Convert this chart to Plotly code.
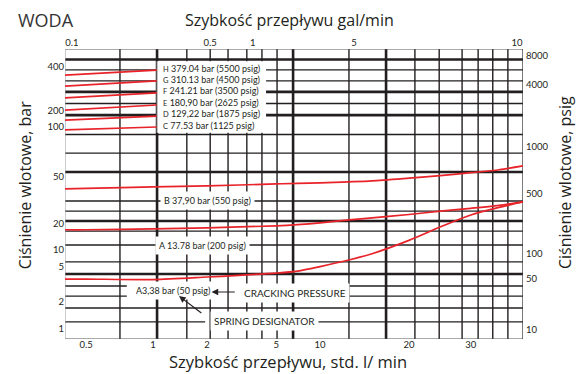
import numpy as np
import plotly.graph_objects as go

# ---------------------------------------------------------------- data
# Flow (std. l/min) at which the relief-valve curves were read
FLOW_LPM = [0.4, 0.5, 1, 2, 5, 7, 10, 12.5, 15, 20, 25, 30, 36, 42]
# Inlet pressure (bar) for springs B, A and A3
B_BAR = [39.6, 39.9, 41.1, 41.9, 43.6, 44.0, 44.5, 45.4, 46.3, 48.8, 51.0, 53.0, 55.2, 58.2]
A_BAR = [17.1, 17.1, 17.5, 18.0, 19.0, 19.6, 20.4, 21.6, 22.5, 24.0, 25.8, 27.1, 28.7, 30.7]
A3_BAR = [3.65, 3.65, 3.6, 3.85, 4.27, 4.5, 5.1, 6.65, 8.6, 12.9, 19.0, 23.8, 27.6, 30.7]

# High-pressure springs H..C (short segments, low-flow end only)
SHORT_FLOW = [0.4, 1.05]
H_BAR = [352, 381]
G_BAR = [296, 321]
F_BAR = [246, 266]
E_BAR = [203, 220]
D_BAR = [135, 161]
C_BAR = [96, 100]

SPRING_LABELS = [
    ("H", "379.04 bar (5500 psig)"),
    ("G", "310.13 bar (4500 psig)"),
    ("F", "241.21 bar (3500 psig)"),
    ("E", "180,90 bar (2625 psig)"),
    ("D", "129,22 bar (1875 psig)"),
    ("C", "77.53 bar (1125 psig)"),
]

# tick labels of the four printed scales
LPM_TICKS = [0.5, 1, 2, 5, 10, 20, 30]
GPM_TICKS = [0.1, 0.5, 1, 5, 10]
BAR_TICKS = [1, 2, 5, 10, 20, 50, 100, 200, 400]
PSIG_TICKS = [10, 50, 100, 500, 1000, 4000, 8000]

# ------------------------------------------------- printed (non-uniform) scales
# The nomogram's scales are hand-ruled; each is calibrated from its own tick
# marks (value -> percent of plot width / height) and interpolated in log space.
LPM_CAL_V = [0.4] + LPM_TICKS + [42]
LPM_CAL_P = [0, 4.6, 19.2, 31.0, 46.1, 55.7, 75.1, 88.6, 100]
BAR_CAL_V = [0.775] + BAR_TICKS + [530]
BAR_CAL_P = [0, 3.4, 12.8, 24.8, 30.7, 39.7, 55.9, 73.1, 78.6, 93.8, 100]
GPM_CAL_P = [1.5, 31.7, 41.0, 63.1, 98.7]
PSIG_CAL_P = [3.1, 20.7, 29.3, 50.0, 66.2, 87.6, 97.6]


def sx(q):
    return np.interp(np.log10(q), np.log10(LPM_CAL_V), LPM_CAL_P)


def sy(p):
    return np.interp(np.log10(p), np.log10(BAR_CAL_V), BAR_CAL_P)


# ruled grid of the chart sheet (percent of plot area); thick rules marked
GRID_V = [12.0, 20.1, 26.6, 31.7, 35.6, 39.7, 43.0, 46.3, 49.8, 62.0, 70.1,
          76.4, 81.7, 86.7, 90.2, 93.4, 96.7]
GRID_V_THICK = [20.1, 49.8, 70.1]
GRID_H = [96.4, 92.8, 89.0, 85.2, 81.2, 77.2, 70.5, 64.1, 57.6, 47.6, 44.1,
          40.7, 37.2, 32.4, 26.6, 22.4, 10.7]
GRID_H_THICK = [96.4, 85.2, 77.2, 57.6, 40.7, 22.4]
# rules that are broken around the bottom call-outs: (y, [(x0, x1), ...])
GRID_H_PARTIAL = [(18.3, [(0, 13.5), (61.6, 100)]),
                  (14.8, [(0, 13.5), (61.6, 100)]),
                  (5.9, [(0, 30.6), (55.2, 100)])]

INK = "#231f20"
RED = "#e8232a"
TXT_FONT = "Lato"
TITLE_FONT = "Open Sans"

fig = go.Figure()

shapes = []


def rule(x0, y0, x1, y1, width, color=INK):
    shapes.append(dict(type="line", xref="x", yref="y", x0=x0, y0=y0, x1=x1, y1=y1,
                       line=dict(color=color, width=width), layer="below"))


for gx in GRID_V:
    rule(gx, 0, gx, 100, 2.6 if gx in GRID_V_THICK else 1.4)
for gy in GRID_H:
    rule(0, gy, 100, gy, 2.6 if gy in GRID_H_THICK else 1.4)
for gy, spans in GRID_H_PARTIAL:
    for a, b in spans:
        rule(a, gy, b, gy, 1.4)

# frame
rule(0, 100, 100, 100, 1.0, "#555")
rule(0, 0, 100, 0, 1.2, "#555")
rule(0, 0, 0, 100, 1.0, "#9a9a9a")
rule(100, 0, 100, 100, 1.3, "#333")

# white panel holding the H..C call-outs
shapes.append(dict(type="rect", xref="x", yref="y", x0=20.1, x1=43.9, y0=71.1, y1=95.8,
                   fillcolor="white", line=dict(width=0), layer="below"))
rule(20.1, 71.1, 20.1, 95.8, 1.0, "#9a9a9a")

# ------------------------------------------------------------- curves
for vals in (B_BAR, A_BAR, A3_BAR):
    fig.add_trace(go.Scatter(
        x=sx(FLOW_LPM), y=sy(vals), mode="lines",
        line=dict(color=RED, width=1.7, shape="spline", smoothing=0.8),
        hoverinfo="skip", showlegend=False))

for vals in (H_BAR, G_BAR, F_BAR, E_BAR, D_BAR, C_BAR):
    fig.add_trace(go.Scatter(
        x=sx(SHORT_FLOW), y=sy(vals), mode="lines",
        line=dict(color=RED, width=1.7),
        hoverinfo="skip", showlegend=False))

# secondary (top / right) scales
fig.add_trace(go.Scatter(x=[None], y=[None], xaxis="x2", yaxis="y2",
                         mode="markers", hoverinfo="skip", showlegend=False))

# ---------------------------------------------------------- annotations
ann = []
SPRING_Y = [93.4, 89.5, 85.6, 81.6, 77.6, 73.5]
for (letter, txt), yy in zip(SPRING_LABELS, SPRING_Y):
    ann.append(dict(x=21.0, y=yy, xref="x", yref="y", xanchor="left", yanchor="middle",
                    text=f"<span style='font-size:7.5px'>{letter}</span> {txt}",
                    showarrow=False, font=dict(family=TXT_FONT, size=9, color=INK)))


def callout(x, y, text, size=9):
    ann.append(dict(x=x, y=y, xref="x", yref="y", xanchor="left", yanchor="middle",
                    text=text, showarrow=False, bgcolor="white", borderpad=3,
                    font=dict(family=TXT_FONT, size=size, color=INK)))


callout(20.7, 47.6, "B 37,90 bar (550 psig)")
callout(19.6, 32.1, "A 13.78 bar (200 psig)")
callout(14.6, 16.6, "A3,38 bar (50 psig)")
callout(38.2, 15.9, "CRACKING PRESSURE", 10)
callout(31.7, 6.2, "SPRING DESIGNATOR", 10)


def arrow(hx, hy, tx, ty):
    ann.append(dict(x=hx, y=hy, ax=tx, ay=ty, xref="x", yref="y", axref="x", ayref="y",
                    text="", showarrow=True, arrowhead=2, arrowsize=1.1,
                    arrowwidth=1.2, arrowcolor=INK))


arrow(32.0, 16.2, 37.4, 16.2)
arrow(24.9, 14.8, 30.1, 8.6)

# titles
ann.append(dict(x=-0.107, y=1.10, xref="paper", yref="paper", xanchor="left",
                yanchor="middle", text="WODA", showarrow=False,
                font=dict(family=TITLE_FONT, size=18, color="#333")))
ann.append(dict(x=0.491, y=1.10, xref="paper", yref="paper", xanchor="center",
                yanchor="middle", text="Szybkość przepływu gal/min", showarrow=False,
                font=dict(family=TITLE_FONT, size=16, color=INK)))
ann.append(dict(x=0.487, y=-0.079, xref="paper", yref="paper", xanchor="center",
                yanchor="middle", text="Szybkość przepływu, std. l/ min", showarrow=False,
                font=dict(family=TITLE_FONT, size=16.5, color=INK)))
ann.append(dict(x=-0.087, y=0.531, xref="paper", yref="paper", xanchor="center",
                yanchor="middle", text="Ciśnienie wlotowe, bar", textangle=-90,
                showarrow=False, font=dict(family=TITLE_FONT, size=16, color=INK)))
ann.append(dict(x=1.092, y=0.538, xref="paper", yref="paper", xanchor="center",
                yanchor="middle", text="Ciśnienie wlotowe, psig", textangle=-90,
                showarrow=False, font=dict(family=TITLE_FONT, size=16, color=INK)))

tick_font = dict(family=TXT_FONT, size=9.5, color=INK)
axis_common = dict(range=[0, 100], showgrid=False, zeroline=False, showline=False,
                   ticks="", tickfont=tick_font, fixedrange=True)

fig.update_layout(
    width=582, height=374,
    margin=dict(l=65, r=59, t=49, b=35, autoexpand=False),
    paper_bgcolor="white", plot_bgcolor="white",
    showlegend=False,
    shapes=shapes, annotations=ann,
    xaxis=dict(**axis_common, tickmode="array", tickvals=list(sx(LPM_TICKS)),
               ticktext=[f"{v:g}" for v in LPM_TICKS], ticklabelstandoff=-2),
    xaxis2=dict(**axis_common, overlaying="x", side="top", tickmode="array",
                tickvals=GPM_CAL_P, ticktext=[f"{v:g}" for v in GPM_TICKS],
                ticklabelstandoff=0),
    yaxis=dict(**axis_common, tickmode="array", tickvals=list(sy(BAR_TICKS)),
               ticktext=[f"{v:g}" for v in BAR_TICKS], ticklabelstandoff=0),
    yaxis2=dict(**axis_common, overlaying="y", side="right", tickmode="array",
                tickvals=PSIG_CAL_P, ticktext=[f"{v:g}" for v in PSIG_TICKS],
                ticklabelstandoff=2),
)

fig.write_html("out.html")
